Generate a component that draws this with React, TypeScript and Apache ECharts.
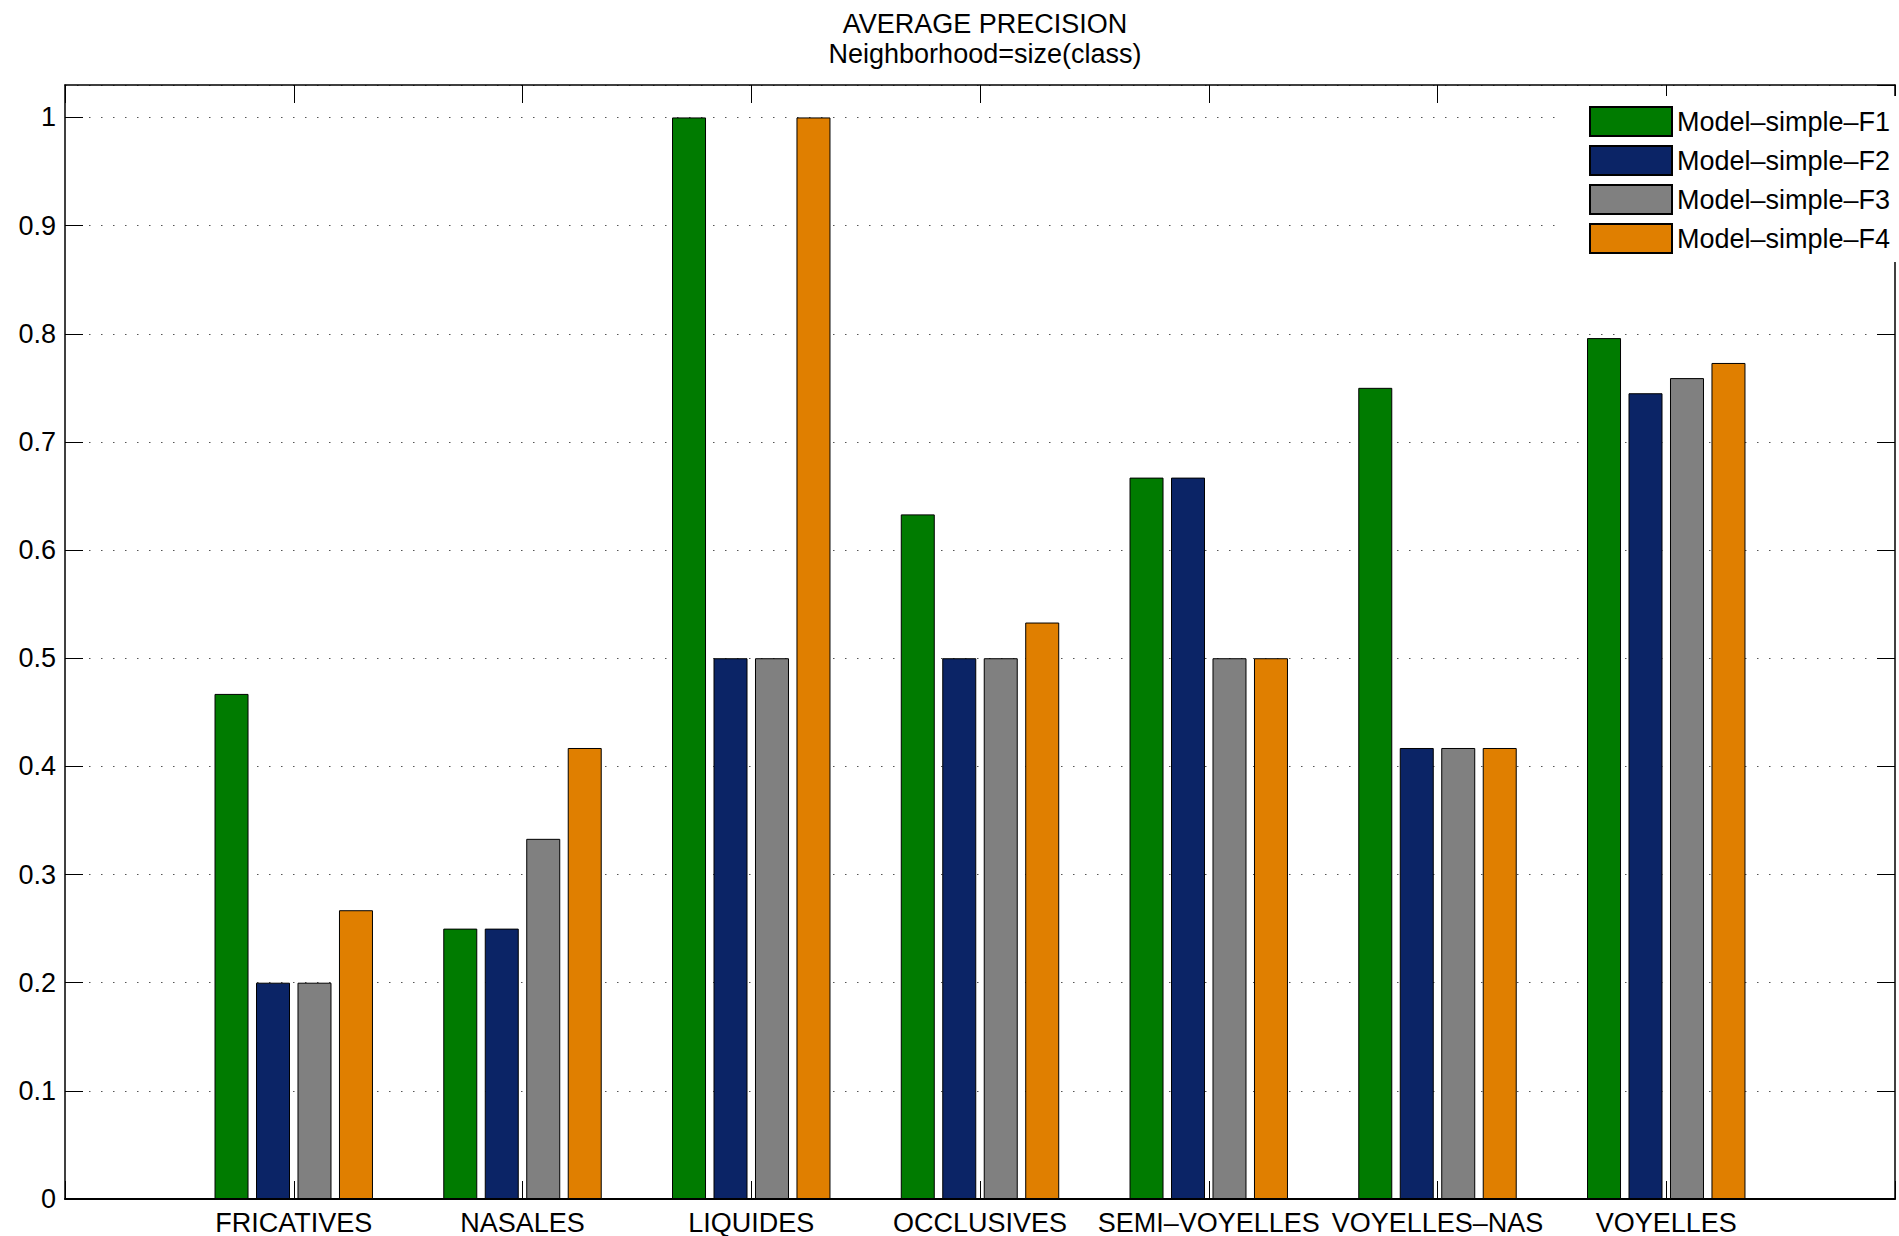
import React, { useEffect, useRef } from "react";
import * as echarts from "echarts";

const categories = ["", "FRICATIVES", "NASALES", "LIQUIDES", "OCCLUSIVES", "SEMI\u2013VOYELLES", "VOYELLES\u2013NAS", "VOYELLES", ""];
const seriesNames = ["Model\u2013simple\u2013F1", "Model\u2013simple\u2013F2", "Model\u2013simple\u2013F3", "Model\u2013simple\u2013F4"];
const f1 = [null, 0.467, 0.25, 1.0, 0.633, 0.667, 0.75, 0.796, null];
const f2 = [null, 0.2, 0.25, 0.5, 0.5, 0.667, 0.417, 0.745, null];
const f3 = [null, 0.2, 0.333, 0.5, 0.5, 0.5, 0.417, 0.759, null];
const f4 = [null, 0.267, 0.417, 1.0, 0.533, 0.5, 0.417, 0.773, null];
const colors = ["#007b00", "#0b2466", "#808080", "#e07f00"];
const titleText = "AVERAGE PRECISION";
const subtitleText = "Neighborhood=size(class)";

const FONT = "'Liberation Sans', Arial, Helvetica, sans-serif";
const FS = 27;

export default function App() {
  const ref = useRef<HTMLDivElement>(null);
  useEffect(() => {
    document.body.style.margin = "0";
    const chart = echarts.init(ref.current!, null, { renderer: "svg" });
    const values = [f1, f2, f3, f4];
    const yCommon = {
      type: "value" as const,
      min: 0,
      max: 1.03,
      interval: 0.1,
      axisLine: { show: true, onZero: false, lineStyle: { color: "#000", width: 1.5 } },
      axisTick: { show: true, inside: true, length: 18, lineStyle: { color: "#000", width: 1 } },
    };
    chart.setOption({
      animation: false,
      backgroundColor: "#fff",
      textStyle: { fontFamily: FONT },
      title: {
        text: titleText + "\n" + subtitleText,
        left: 980,
        top: 4,
        textAlign: "center",
        textStyle: { fontFamily: FONT, fontSize: FS, fontWeight: "normal", color: "#000", lineHeight: 30 },
      },
      grid: { left: 65, right: 4, top: 85, bottom: 37, containLabel: false },
      legend: {
        orient: "vertical",
        left: 1562,
        top: 96,
        padding: [10, 6, 8, 27],
        backgroundColor: "#fff",
        itemWidth: 82,
        itemHeight: 29,
        itemGap: 8,
        icon: "rect",
        textStyle: { fontFamily: FONT, fontSize: FS, color: "#000", lineHeight: 29, padding: [0, 0, 0, 0] },
        data: seriesNames,
      },
      xAxis: [
        {
          type: "category",
          data: categories,
          boundaryGap: false,
          position: "bottom",
          axisLine: { show: true, onZero: false, lineStyle: { color: "#000", width: 2 } },
          axisTick: { show: true, inside: true, length: 18, lineStyle: { color: "#000" } },
          axisLabel: { fontFamily: FONT, fontSize: FS, color: "#000", margin: 10, interval: 0 },
          splitLine: { show: false },
        },
        {
          type: "category",
          data: categories,
          boundaryGap: false,
          position: "top",
          axisLine: { show: true, onZero: false, lineStyle: { color: "#000", width: 1.5 } },
          axisTick: { show: true, inside: true, length: 18, lineStyle: { color: "#000" } },
          axisLabel: { show: false },
          splitLine: { show: false },
        },
      ],
      yAxis: [
        {
          ...yCommon,
          position: "left",
          axisLabel: { fontFamily: FONT, fontSize: FS, color: "#000", margin: 9, showMaxLabel: false },
          splitLine: { show: true, lineStyle: { color: "#555", width: 1, type: [1.5, 10.5] } },
        },
        {
          ...yCommon,
          position: "right",
          axisLabel: { show: false },
          splitLine: { show: false },
        },
      ],
      series: values.map((v, i) => ({
        name: seriesNames[i],
        type: "bar",
        xAxisIndex: 0,
        yAxisIndex: 0,
        data: v,
        barWidth: 34,
        barGap: "22%",
        itemStyle: { color: colors[i], borderColor: "#000", borderWidth: 1 },
      })),
    });
    return () => chart.dispose();
  }, []);
  return <div ref={ref} style={{ width: 1899, height: 1236 }} />;
}
